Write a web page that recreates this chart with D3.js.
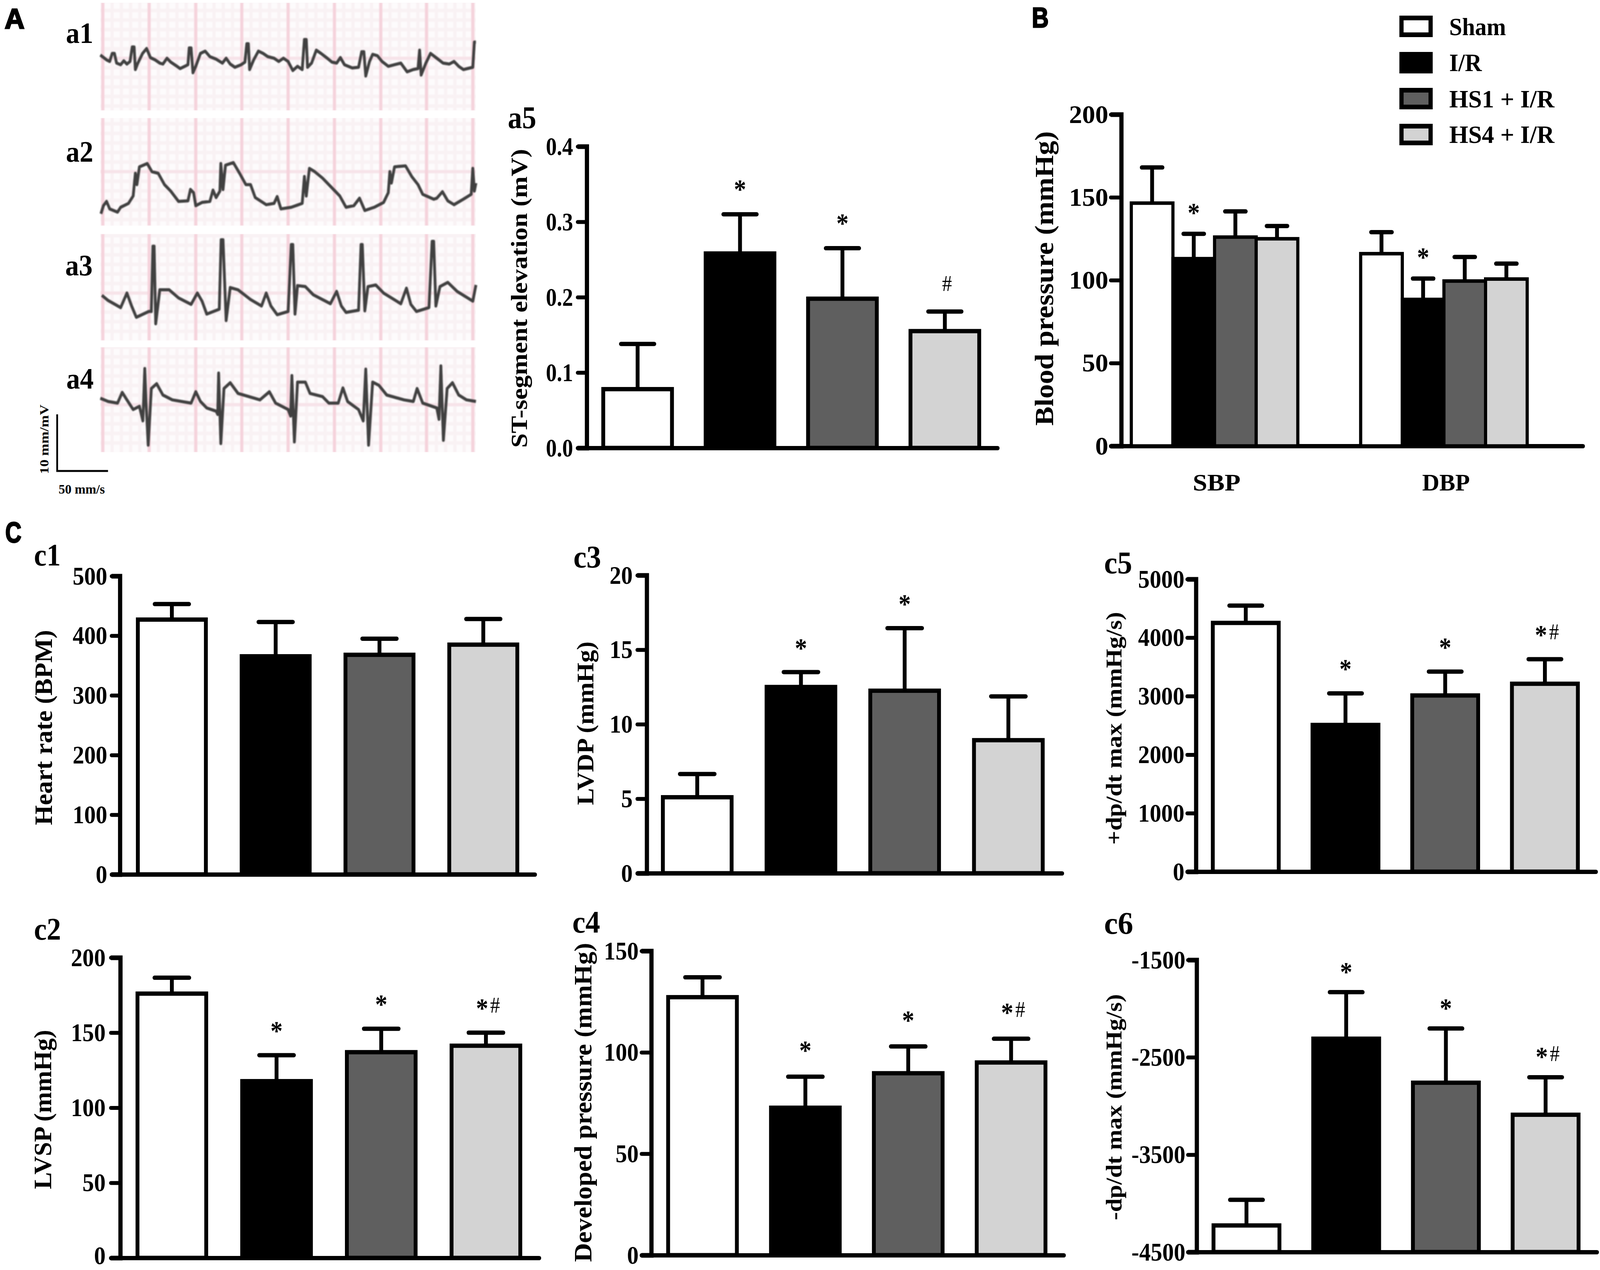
<!DOCTYPE html>
<html>
<head>
<meta charset="utf-8">
<script src="https://cdn.jsdelivr.net/npm/d3@7"></script>
<style>
  html, body { margin: 0; background: #fff; overflow: hidden; }
  svg { display: block; }
  text { font-family: "Liberation Serif", serif; font-weight: bold; fill: #000; }
  .letter { font-family: "Liberation Sans", sans-serif; stroke: #000; stroke-width: 3; }
  .thin { font-weight: normal; }
</style>
</head>
<body>
<div id="figure"></div>
<script>
/**
 * data
 */
const groups = ["Sham", "I/R", "HS1 + I/R", "HS4 + I/R"];
const groupFill = ["#ffffff", "#000000", "#5f5f5f", "#d3d3d3"];

const a5Ticks = [0, 0.1, 0.2, 0.3, 0.4];
const a5Means = [0.078, 0.258, 0.198, 0.155];
const a5Upper = [0.138, 0.31, 0.265, 0.181];
const a5Marks = ["", "*", "*", "#"];

const bTicks = [0, 50, 100, 150, 200];
const bCategories = ["SBP", "DBP"];
const sbpMeans = [146.5, 113, 126, 125];
const sbpUpper = [168, 128, 141.5, 132.7];
const sbpMarks = ["", "*", "", ""];
const dbpMeans = [116, 88.4, 99.5, 100.7];
const dbpUpper = [129, 101, 114, 110];
const dbpMarks = ["", "*", "", ""];

const c1Ticks = [0, 100, 200, 300, 400, 500];
const c1Means = [427, 365.5, 368, 385];
const c1Upper = [453, 423, 395, 428];
const c1Marks = ["", "", "", ""];

const c2Ticks = [0, 50, 100, 150, 200];
const c2Means = [176, 117.7, 137, 141.3];
const c2Upper = [186.6, 135, 152.6, 150];
const c2Marks = ["", "*", "*", "*#"];

const c3Ticks = [0, 5, 10, 15, 20];
const c3Means = [5.1, 12.5, 12.25, 8.93];
const c3Upper = [6.66, 13.5, 16.45, 11.87];
const c3Marks = ["", "*", "*", ""];

const c4Ticks = [0, 50, 100, 150];
const c4Means = [127.2, 72.7, 89.7, 95];
const c4Upper = [137, 88, 102.9, 106.7];
const c4Marks = ["", "*", "*", "*#"];

const c5Ticks = [0, 1000, 2000, 3000, 4000, 5000];
const c5Means = [4252, 2508, 3012, 3212];
const c5Upper = [4548, 3048, 3420, 3632];
const c5Marks = ["", "*", "*", "*#"];

const c6Ticks = [-4500, -3500, -2500, -1500];
const c6Means = [-4227, -2309, -2761, -3090];
const c6Upper = [-3964, -1831, -2204, -2705];
const c6Marks = ["", "*", "*", "*#"];

// ECG traces, [time, level] in reading units off the paper
const a1Trace = [[320,170],[340,185],[350,190],[358,165],[365,165],[372,195],[385,200],[395,188],[405,198],[415,190],[422,145],[428,145],[432,215],[440,195],[455,165],[468,150],[480,178],[495,185],[510,195],[520,198],[533,180],[545,192],[565,205],[575,212],[590,205],[600,200],[604,148],[610,148],[616,225],[625,205],[640,165],[655,158],[670,175],[690,183],[710,195],[722,180],[735,198],[750,208],[770,200],[782,192],[788,135],[793,135],[797,215],[810,185],[825,158],[840,165],[855,175],[875,180],[890,190],[905,180],[920,190],[935,218],[950,205],[965,215],[972,122],[978,122],[982,208],[995,195],[1010,155],[1025,165],[1045,180],[1060,192],[1075,195],[1087,178],[1100,200],[1125,210],[1145,208],[1155,160],[1162,160],[1168,235],[1180,190],[1190,168],[1205,172],[1220,190],[1240,205],[1260,200],[1280,195],[1300,222],[1320,215],[1335,212],[1340,155],[1345,232],[1360,195],[1375,165],[1395,180],[1415,195],[1435,198],[1450,190],[1465,205],[1480,215],[1510,208],[1515,130],[1520,130]];
const a2Trace = [[322,660],[330,635],[340,622],[350,645],[375,655],[385,640],[410,628],[425,605],[432,535],[437,570],[445,515],[470,505],[485,530],[505,535],[525,570],[545,590],[570,622],[600,620],[608,585],[618,595],[625,635],[645,625],[670,622],[680,587],[690,610],[702,590],[705,505],[712,585],[720,510],[745,502],[765,535],[785,570],[800,570],[815,610],[850,632],[875,628],[885,607],[897,645],[930,640],[965,628],[972,545],[978,605],[988,520],[1005,530],[1030,550],[1060,580],[1085,605],[1105,640],[1130,635],[1148,612],[1165,650],[1195,640],[1225,625],[1240,595],[1245,530],[1250,565],[1260,515],[1295,512],[1315,545],[1335,570],[1350,600],[1385,615],[1395,612],[1413,592],[1430,620],[1450,632],[1480,615],[1505,600],[1510,520],[1515,590],[1520,565]];
const a3Trace = [[325,912],[345,928],[385,950],[405,905],[420,945],[435,980],[475,962],[483,962],[488,760],[492,760],[497,1000],[510,895],[540,895],[570,920],[610,940],[630,905],[645,930],[660,970],[700,955],[706,740],[712,740],[722,990],[735,888],[760,895],[800,925],[835,945],[850,905],[865,945],[885,972],[920,962],[930,755],[935,755],[942,970],[950,882],[975,885],[1000,910],[1055,938],[1075,900],[1090,945],[1105,965],[1145,958],[1153,755],[1157,755],[1165,960],[1175,885],[1200,880],[1225,905],[1280,938],[1298,890],[1312,940],[1330,962],[1370,950],[1380,745],[1385,745],[1392,945],[1405,885],[1430,872],[1460,900],[1510,930],[1520,880]];
const a4Trace = [[320,1230],[345,1240],[375,1245],[390,1212],[405,1235],[425,1265],[445,1255],[456,1300],[462,1138],[466,1240],[473,1375],[483,1200],[500,1185],[520,1220],[550,1235],[610,1245],[625,1210],[640,1240],[660,1260],[690,1270],[695,1280],[698,1152],[705,1370],[715,1200],[735,1182],[760,1215],[830,1235],[860,1210],[880,1245],[920,1265],[928,1285],[932,1160],[940,1365],[950,1180],[975,1180],[990,1215],[1030,1225],[1050,1245],[1080,1245],[1095,1198],[1110,1240],[1145,1265],[1160,1300],[1168,1140],[1177,1375],[1190,1180],[1210,1190],[1235,1220],[1290,1235],[1320,1240],[1332,1200],[1350,1245],[1395,1260],[1402,1295],[1408,1130],[1416,1360],[1428,1200],[1445,1182],[1465,1220],[1490,1235],[1520,1240]];

/**
 * layout, drawn in reference pixels and fitted to the window
 */
const WIDTH = 4562;
const HEIGHT = 3252;

const svg = d3.select("#figure").append("svg")
    .attr("width", window.innerWidth)
    .attr("height", window.innerHeight)
    .attr("viewBox", `0 0 ${WIDTH} ${HEIGHT}`)
    .attr("preserveAspectRatio", "none");

svg.append("defs").append("filter")
    .attr("id", "soft")
    .append("feGaussianBlur")
    .attr("stdDeviation", 1.6);

const barPanels = [
  {name: "a5", means: a5Means, upper: a5Upper, marks: a5Marks, ticks: a5Ticks, fmt: d => d.toFixed(1),
   title: "ST-segment elevation (mV)", axisX: 1673, yTop: 375, yBase: 1147, tickLeft: 1647, right: 2844,
   cx0: 1818, step: 292, barW: 196, capW: 95, gap: 72, tickRight: 1634, tickK: 0.94,
   titleX: 1502, titleMid: 764, titleLen: 765, titleSize: 65, labelX: 1448, labelY: 328, labelW: 81},
  {name: "c1", means: c1Means, upper: c1Upper, marks: c1Marks, ticks: c1Ticks, fmt: String,
   title: "Heart rate (BPM)", axisX: 342, yTop: 1475, yBase: 2239, tickLeft: 318, right: 1525,
   cx0: 490, step: 296, barW: 194, capW: 98, gap: 70, tickRight: 306, tickK: 1,
   titleX: 148, titleMid: 1863, titleLen: 500, titleSize: 70, labelX: 97, labelY: 1448, labelW: 76},
  {name: "c2", means: c2Means, upper: c2Upper, marks: c2Marks, ticks: c2Ticks, fmt: String,
   title: "LVSP (mmHg)", axisX: 343, yTop: 2452, yBase: 3221, tickLeft: 316, right: 1537,
   cx0: 490, step: 298.5, barW: 196, capW: 99, gap: 70, tickRight: 301, tickK: 1, zeroDy: "0.24em",
   titleX: 146, titleMid: 2841, titleLen: 408, titleSize: 70, labelX: 97, labelY: 2406, labelW: 77},
  {name: "c3", means: c3Means, upper: c3Upper, marks: c3Marks, ticks: c3Ticks, fmt: String,
   title: "LVDP (mmHg)", axisX: 1844, yTop: 1473, yBase: 2236, tickLeft: 1817, right: 3028,
   cx0: 1988, step: 295.7, barW: 196, capW: 99, gap: 69, tickRight: 1804, tickK: 1,
   titleX: 1692, titleMid: 1852, titleLen: 419, titleSize: 68, labelX: 1635, labelY: 1453, labelW: 79},
  {name: "c4", means: c4Means, upper: c4Upper, marks: c4Marks, ticks: c4Ticks, fmt: String,
   title: "Developed pressure (mmHg)", axisX: 1857, yTop: 2435, yBase: 3214, tickLeft: 1829, right: 3033,
   cx0: 2003, step: 293.3, barW: 196, capW: 99, gap: 75, tickRight: 1821, tickK: 1,
   titleX: 1686, titleMid: 2823, titleLen: 817, titleSize: 70, labelX: 1632, labelY: 2388, labelW: 79},
  {name: "c5", means: c5Means, upper: c5Upper, marks: c5Marks, ticks: c5Ticks, fmt: String,
   title: "+dp/dt max (mmHg/s)", axisX: 3410, yTop: 1483, yBase: 2232, tickLeft: 3385, right: 4550,
   cx0: 3552, step: 284.3, barW: 188, capW: 94, gap: 70, tickRight: 3377, tickK: 1,
   titleX: 3198, titleMid: 1865, titleLen: 596, titleSize: 64, labelX: 3148, labelY: 1468, labelW: 80},
  {name: "c6", means: c6Means, upper: c6Upper, marks: c6Marks, ticks: c6Ticks, fmt: String,
   title: "-dp/dt max (mmHg/s)", axisX: 3412, yTop: 2458, yBase: 3206, tickLeft: 3387, right: 4553,
   cx0: 3554, step: 284.3, barW: 188, capW: 94, gap: 60, tickRight: 3380, tickK: 1,
   titleX: 3198, titleMid: 2835, titleLen: 579, titleSize: 64, labelX: 3148, labelY: 2391, labelW: 83}
];

const ecgPanels = [
  {name: "a1", trace: a1Trace, read: [8, 342], top: 7, bottom: 283, rows: [180], labelX: 188, labelY: 110},
  {name: "a2", trace: a2Trace, read: [364, 697], top: 302, bottom: 578, rows: [530], labelX: 188, labelY: 414},
  {name: "a3", trace: a3Trace, read: [722, 1052], top: 599, bottom: 872, rows: [905], labelX: 186, labelY: 705},
  {name: "a4", trace: a4Trace, read: [1072, 1397], top: 889, bottom: 1158, rows: [1250], labelX: 189, labelY: 995}
];
const ecgColumns = [328, 476, 625, 772, 920, 1068, 1216, 1362, 1510];

/**
 * text helper, stretches a text to the width it has in the picture
 */
function label(sel, txt, x, y, size, len, cls) {
  const t = sel.append("text")
      .attr("x", x)
      .attr("y", y)
      .attr("font-size", size)
      .text(txt);
  if (len) t.attr("textLength", len).attr("lengthAdjust", "spacingAndGlyphs");
  if (cls) t.attr("class", cls);
  return t;
}

/**
 * y axis, baseline and axis title of one bar panel
 */
function drawFrame(p) {
  const y = d3.scaleLinear().domain(d3.extent(p.ticks)).range([p.yBase, p.yTop]);
  const tickSize = p.axisX - p.tickLeft;

  const axis = svg.append("g")
      .attr("transform", `translate(${p.axisX},0)`)
      .call(d3.axisLeft(y)
          .tickValues(p.ticks)
          .tickFormat(p.fmt)
          .tickSizeOuter(0)
          .tickSize(tickSize)
          .tickPadding(p.axisX - p.tickRight - tickSize));
  axis.select(".domain").attr("stroke", "#000").attr("stroke-width", 12);
  axis.selectAll(".tick line")
      .attr("stroke", "#000")
      .attr("stroke-width", 10)
      .attr("stroke-linecap", "round");
  axis.selectAll(".tick text")
      .attr("font-size", 66)
      .each(function(d) {
        const node = d3.select(this);
        node.attr("textLength", this.getComputedTextLength() * p.tickK)
            .attr("lengthAdjust", "spacingAndGlyphs");
        if (p.zeroDy && d === p.ticks[0]) node.attr("dy", p.zeroDy);
      });
  axis.attr("font-family", null);

  const base = d3.scaleLinear().range([p.tickLeft, p.right]);
  const bottom = svg.append("g")
      .attr("transform", `translate(0,${p.yBase})`)
      .call(d3.axisBottom(base).tickValues([]).tickSizeOuter(0));
  bottom.select(".domain")
      .attr("stroke", "#000")
      .attr("stroke-width", 11)
      .attr("stroke-linecap", "round");

  svg.append("text")
      .attr("transform", `translate(${p.titleX},${p.titleMid}) rotate(-90)`)
      .attr("text-anchor", "middle")
      .attr("font-size", p.titleSize)
      .attr("textLength", p.titleLen)
      .attr("lengthAdjust", "spacingAndGlyphs")
      .text(p.title);

  return y;
}

/**
 * bars, error bars and * # marks for one set of four groups
 */
function drawBars(x, y, p, means, upper, marks, base) {
  const rows = groups.map((g, i) => ({g: g, fill: groupFill[i], mean: means[i], up: upper[i], mark: marks[i]}));
  const layer = svg.append("g");
  const mid = d => x(d.g) + x.bandwidth() / 2;
  const sw = p.barStroke || 11;

  layer.selectAll("line.stem")
      .data(rows).enter().append("line")
      .attr("class", "stem")
      .attr("x1", mid).attr("x2", mid)
      .attr("y1", d => y(d.mean)).attr("y2", d => y(d.up))
      .attr("stroke", "#000").attr("stroke-width", 11);

  layer.selectAll("line.cap")
      .data(rows).enter().append("line")
      .attr("class", "cap")
      .attr("x1", d => mid(d) - p.capW / 2).attr("x2", d => mid(d) + p.capW / 2)
      .attr("y1", d => y(d.up)).attr("y2", d => y(d.up))
      .attr("stroke", "#000").attr("stroke-width", 11).attr("stroke-linecap", "round");

  layer.selectAll("rect")
      .data(rows).enter().append("rect")
      .attr("x", d => x(d.g))
      .attr("width", x.bandwidth())
      .attr("y", d => y(d.mean))
      .attr("height", d => y(base) - y(d.mean))
      .attr("fill", d => d.fill)
      .attr("stroke", "#000")
      .attr("stroke-width", sw);

  rows.forEach(d => {
    const cy = y(d.up) - p.gap;
    const pair = d.mark.length > 1;
    [...d.mark].forEach(ch => {
      if (ch === "*") {
        label(layer, ch, mid(d) - (pair ? 11 : 0), cy + 31, 70).attr("text-anchor", "middle");
      } else {
        label(layer, ch, mid(d) + (pair ? 26 : 6), cy + 19, 56, null, "thin").attr("text-anchor", "middle");
      }
    });
  });
}

/**
 * A: ECG strips
 */
ecgPanels.forEach(p => {
  const x = d3.scaleLinear().domain([320, 1520]).range([286, 1357]);
  const y = d3.scaleLinear().domain(p.read).range([p.top, p.bottom]);
  const strip = svg.append("g");
  const minorStep = (ecgColumns[1] - ecgColumns[0]) / 5;
  const clipId = "clip-" + p.name;

  svg.select("defs").append("clipPath").attr("id", clipId)
      .append("rect")
      .attr("x", x(320)).attr("y", p.top)
      .attr("width", x(1520) - x(320)).attr("height", p.bottom - p.top);

  const grid = strip.append("g").attr("clip-path", `url(#${clipId})`);
  grid.append("rect")
      .attr("x", x(320)).attr("y", p.top)
      .attr("width", x(1520) - x(320)).attr("height", p.bottom - p.top)
      .attr("fill", "#fdfbfc");

  const soft = grid.append("g").attr("filter", "url(#soft)");
  const minorX = d3.range(ecgColumns[0], 1520, minorStep);
  const minorY = d3.range(p.rows[0] - minorStep * 10, p.read[1], minorStep);

  soft.selectAll("line.mx").data(minorX).enter().append("line")
      .attr("x1", d => x(d)).attr("x2", d => x(d)).attr("y1", p.top).attr("y2", p.bottom)
      .attr("stroke", "#f9f2f4").attr("stroke-width", 9);
  soft.selectAll("line.my").data(minorY).enter().append("line")
      .attr("x1", x(320)).attr("x2", x(1520)).attr("y1", d => y(d)).attr("y2", d => y(d))
      .attr("stroke", "#f9f2f4").attr("stroke-width", 9);
  soft.selectAll("line.rx").data(p.rows).enter().append("line")
      .attr("x1", x(320)).attr("x2", x(1520)).attr("y1", d => y(d)).attr("y2", d => y(d))
      .attr("stroke", "#f7e3e9").attr("stroke-width", 8);
  soft.selectAll("line.cx").data(ecgColumns).enter().append("line")
      .attr("x1", d => x(d)).attr("x2", d => x(d)).attr("y1", p.top).attr("y2", p.bottom)
      .attr("stroke", "#f5d3dc").attr("stroke-width", 9);

  const line = d3.line().x(d => x(d[0])).y(d => y(d[1]));
  strip.append("path")
      .attr("d", line(p.trace))
      .attr("fill", "none")
      .attr("stroke", "#404040")
      .attr("stroke-width", 8)
      .attr("stroke-linejoin", "round")
      .attr("filter", "url(#soft)");

  label(svg, p.name, p.labelX, p.labelY, 76, 78);
});

// scale bar of the strips
const scaleBar = d3.line();
svg.append("path")
    .attr("d", scaleBar([[163, 1061], [163, 1206], [308, 1206]]))
    .attr("fill", "none")
    .attr("stroke", "#000")
    .attr("stroke-width", 5);
svg.append("text")
    .attr("transform", "translate(138,1125) rotate(-90)")
    .attr("text-anchor", "middle")
    .attr("font-size", 34)
    .attr("textLength", 178)
    .attr("lengthAdjust", "spacingAndGlyphs")
    .text("10 mm/mV");
label(svg, "50 mm/s", 167, 1264, 34, 132);

/**
 * a5 and C: one group of bars per panel
 */
barPanels.forEach(p => {
  const y = drawFrame(p);
  const x = d3.scaleBand()
      .domain(groups)
      .range([p.cx0 - p.step / 2, p.cx0 + p.step * 3.5])
      .paddingInner(1 - p.barW / p.step)
      .paddingOuter((1 - p.barW / p.step) / 2);
  drawBars(x, y, p, p.means, p.upper, p.marks, p.ticks[0]);
  label(svg, p.name, p.labelX, p.labelY, 80, p.labelW);
});

/**
 * B: blood pressure, two clusters
 */
const bp = {ticks: bTicks, fmt: String, title: "Blood pressure (mmHg)", axisX: 3197, yTop: 293, yBase: 1142,
            tickLeft: 3167, right: 4513, capW: 59, gap: 62, tickRight: 3160, tickK: 1.13, barStroke: 9,
            titleX: 3003, titleMid: 713, titleLen: 754, titleSize: 75};
const bY = drawFrame(bp);
const bCluster = d3.scalePoint().domain(bCategories).range([3463, 4117]);
const barStep = 118.7;

[[sbpMeans, sbpUpper, sbpMarks], [dbpMeans, dbpUpper, dbpMarks]].forEach((s, i) => {
  const c = bCluster(bCategories[i]);
  const x = d3.scaleBand().domain(groups).range([c - barStep * 2, c + barStep * 2]);
  drawBars(x, bY, bp, s[0], s[1], s[2], 0);
  label(svg, bCategories[i], c + 6, 1256, 62, 136).attr("text-anchor", "middle");
});

// legend
const legendTop = [41, 134, 226, 318];
const legendBase = [90, 182, 275, 366];
const legendWidth = [162, 93, 300, 300];
groups.forEach((g, i) => {
  svg.append("rect")
      .attr("x", 3996)
      .attr("y", legendTop[i] + 5)
      .attr("width", 83)
      .attr("height", 43)
      .attr("fill", groupFill[i])
      .attr("stroke", "#000")
      .attr("stroke-width", 12);
  label(svg, g, 4132, legendBase[i], 63, legendWidth[i]);
});

// panel letters
label(svg, "A", 13, 73, 72, 57, "letter");
label(svg, "B", 2942, 70, 72, 48, "letter");
label(svg, "C", 15, 1389, 74, 46, "letter");
</script>
</body>
</html>
